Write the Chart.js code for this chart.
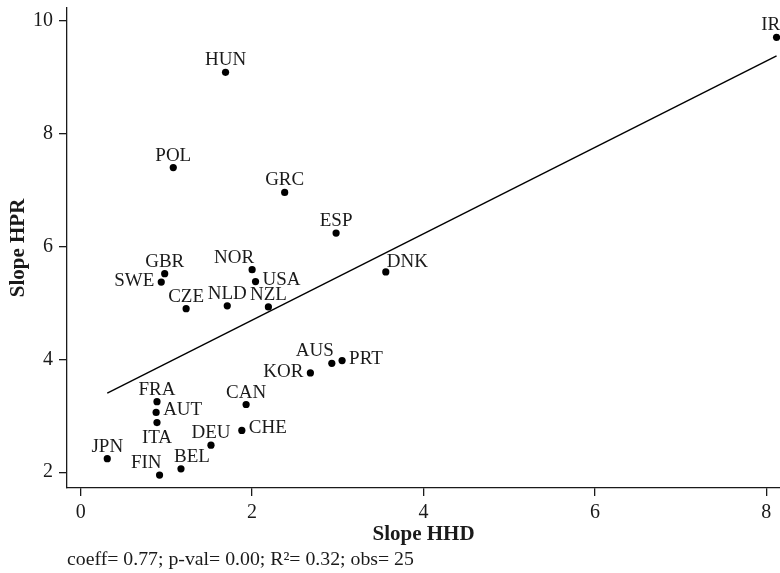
<!DOCTYPE html>
<html>
<head>
<meta charset="utf-8">
<script src="https://cdn.jsdelivr.net/npm/chart.js@4.4.0/dist/chart.umd.min.js"></script>
<style>
  html, body { margin: 0; padding: 0; background: #fff; }
  #wrap { width: 780px; height: 573px; position: relative; }
</style>
</head>
<body>
<div id="wrap"><canvas id="scatterChart"></canvas></div>
<script>
// Data
const countries = ['IRL', 'HUN', 'POL', 'GRC', 'ESP', 'NOR', 'USA', 'GBR', 'SWE', 'DNK',
                   'CZE', 'NLD', 'NZL', 'AUS', 'PRT', 'KOR', 'FRA', 'AUT', 'ITA', 'CAN',
                   'CHE', 'DEU', 'JPN', 'FIN', 'BEL'];
const slopeHHD = [8.12, 1.69, 1.08, 2.38, 2.98, 2.00, 2.04, 0.98, 0.94, 3.56,
                  1.23, 1.71, 2.19, 2.93, 3.05, 2.68, 0.89, 0.88, 0.89, 1.93,
                  1.88, 1.52, 0.31, 0.92, 1.17];
const slopeHPR = [9.71, 9.09, 7.40, 6.96, 6.24, 5.59, 5.38, 5.52, 5.37, 5.55,
                  4.90, 4.95, 4.93, 3.93, 3.98, 3.76, 3.25, 3.06, 2.88, 3.20,
                  2.74, 2.48, 2.24, 1.95, 2.06];
// fitted line end points
const fitX = [0.31, 8.12];
const fitY = [3.40, 9.38];
const xTicks = [0, 2, 4, 6, 8];
const yTicks = [2, 4, 6, 8, 10];
const note = 'coeff= 0.77; p-val= 0.00; R\u00B2= 0.32; obs= 25';

// where each marker label sits (clock position, like Stata)
const labelClock = {
    SWE: 9, KOR: 9, USA: 3, PRT: 3, AUT: 3, CHE: 3, ITA: 6,
    NOR: 11, AUS: 11, FIN: 11, DNK: 2, BEL: 1
};

const FONT = "'Liberation Serif', 'DejaVu Serif', serif";
const INK = '#1a1a1a';

// draw country names next to the points
const markerLabels = {
    id: 'markerLabels',
    afterDatasetsDraw(chart) {
        const ctx = chart.ctx;
        const meta = chart.getDatasetMeta(0);
        ctx.save();
        ctx.font = '19px ' + FONT;
        ctx.fillStyle = INK;
        ctx.textBaseline = 'alphabetic';
        meta.data.forEach((pt, i) => {
            const name = countries[i];
            const pos = labelClock[name] || 12;
            let x = pt.x, y = pt.y;
            if (pos === 12) { ctx.textAlign = 'center'; y -= 7; }
            else if (pos === 3) { ctx.textAlign = 'left'; x += 7; y += 3; }
            else if (pos === 9) { ctx.textAlign = 'right'; x -= 7; y += 4; }
            else if (pos === 6) { ctx.textAlign = 'center'; y += 20; }
            else if (pos === 11) { ctx.textAlign = 'right'; x += 2; y -= 7; }
            else if (pos === 1) { ctx.textAlign = 'left'; x -= 7; y -= 7; }
            else if (pos === 2) { ctx.textAlign = 'left'; x += 1; y -= 5; }
            ctx.fillText(name, x, y);
        });
        ctx.restore();
    }
};

// regression note under the x axis
const footNote = {
    id: 'footNote',
    afterDraw(chart) {
        const ctx = chart.ctx;
        ctx.save();
        ctx.font = '19.8px ' + FONT;
        ctx.fillStyle = INK;
        ctx.textAlign = 'left';
        ctx.textBaseline = 'alphabetic';
        ctx.fillText(note, 67, 565);
        ctx.restore();
    }
};

const ctx = document.getElementById('scatterChart').getContext('2d');
const chart = new Chart(ctx, {
    type: 'scatter',
    data: {
        datasets: [{
            data: slopeHHD.map((x, i) => ({ x: x, y: slopeHPR[i] })),
            backgroundColor: '#000',
            borderColor: '#000',
            pointRadius: 3.6,
            pointHoverRadius: 3.6,
            borderWidth: 0
        }, {
            data: fitX.map((x, i) => ({ x: x, y: fitY[i] })),
            showLine: true,
            borderColor: '#000',
            borderWidth: 1.4,
            pointRadius: 0,
            fill: false
        }]
    },
    options: {
        responsive: true,
        maintainAspectRatio: false,
        animation: false,
        events: [],
        layout: { autoPadding: false, padding: { top: 8, right: 0, bottom: 26, left: 0 } },
        plugins: {
            legend: { display: false },
            tooltip: { enabled: false }
        },
        scales: {
            x: {
                type: 'linear',
                min: -0.16,
                max: 8.16,
                afterBuildTicks: (scale) => { scale.ticks = xTicks.map(v => ({ value: v })); },
                afterFit: (scale) => {
                    scale.height = 59;
                    scale.paddingLeft = 0;
                    scale.paddingRight = 0;
                },
                grid: { drawOnChartArea: false, drawTicks: true, tickLength: 8, color: INK, lineWidth: 1.3 },
                border: { color: INK, width: 1.3 },
                ticks: { font: { family: FONT, size: 20 }, color: INK, padding: 5, maxRotation: 0 },
                title: {
                    display: true, text: 'Slope HHD', color: INK,
                    font: { family: FONT, size: 21, weight: 'bold' },
                    padding: { top: 0, bottom: 0 }
                }
            },
            y: {
                type: 'linear',
                min: 1.72,
                max: 10.23,
                afterBuildTicks: (scale) => { scale.ticks = yTicks.map(v => ({ value: v })); },
                afterFit: (scale) => {
                    scale.width = 67;
                    scale.paddingTop = 0;
                    scale.paddingBottom = 0;
                },
                grid: { drawOnChartArea: false, drawTicks: true, tickLength: 8, color: INK, lineWidth: 1.3 },
                border: { color: INK, width: 1.3 },
                ticks: { font: { family: FONT, size: 20 }, color: INK, padding: 6 },
                title: {
                    display: true, text: 'Slope HPR', color: INK,
                    font: { family: FONT, size: 21, weight: 'bold' },
                    padding: { top: 6, bottom: 0 }
                }
            }
        }
    },
    plugins: [markerLabels, footNote]
});
</script>
</body>
</html>
